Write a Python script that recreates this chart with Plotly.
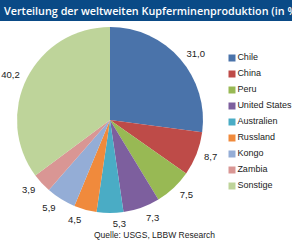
import plotly.graph_objects as go

categories = ["Chile", "China", "Peru", "United States", "Australien", "Russland", "Kongo", "Zambia", "Sonstige"]
values = [31.0, 8.7, 7.5, 7.3, 5.3, 4.5, 5.9, 3.9, 40.2]
colors = ["#4A73AA", "#BE4B48", "#98B954", "#7D5F9E", "#4AACC5", "#F08A3C", "#94ADD6", "#D99694", "#BED49A"]
title = "Verteilung der weltweiten Kupferminenproduktion (in %)"
source = "Quelle: USGS, LBBW Research"

W, H = 292, 241
cx, cy, r = 110, 120, 93
lab_r = r + 5  # labels sit a bit away from the pie edge


def dom(rad):
    return dict(x=[(cx - rad) / W, (cx + rad) / W], y=[(H - cy - rad) / H, (H - cy + rad) / H])


fig = go.Figure()

# two invisible, slightly larger pies that carry the outside value labels
# (alternate slices, so neighbouring labels are not pushed apart)
for parity in (0, 1):
    fig.add_trace(go.Pie(
        labels=categories,
        values=values,
        marker=dict(colors=["rgba(0,0,0,0)"] * len(values), line=dict(width=0)),
        sort=False, direction="clockwise", rotation=0,
        textposition=["outside" if i % 2 == parity else "none" for i in range(len(values))],
        texttemplate="%{value:.1f}",
        textfont=dict(size=9.5, color="#222222", family="Liberation Sans"),
        domain=dom(lab_r),
        hoverinfo="skip", showlegend=False,
    ))

# visible pie
fig.add_trace(go.Pie(
    labels=categories,
    values=values,
    marker=dict(colors=colors, line=dict(width=0)),
    sort=False, direction="clockwise", rotation=0,
    textinfo="none",
    domain=dom(r),
    hoverinfo="label+value", showlegend=False,
))

# custom legend (rows 16px apart)
idx = list(range(len(categories)))
fig.add_trace(go.Scatter(
    x=[0] * len(categories), y=idx,
    mode="markers+text",
    marker=dict(symbol="square", size=7, color=colors),
    text=categories, textposition="middle right",
    textfont=dict(size=9, color="#222222", family="Liberation Sans"),
    cliponaxis=False, hoverinfo="skip", showlegend=False,
    xaxis="x", yaxis="y",
))

top_row, bot_row = 58, 186
fig.update_layout(
    width=W, height=H,
    margin=dict(l=0, r=0, t=0, b=0, autoexpand=False),
    paper_bgcolor="white", plot_bgcolor="rgba(0,0,0,0)",
    separators=",.",
    font=dict(family="Liberation Sans", size=9, color="#222222"),
    showlegend=False,
    xaxis=dict(domain=[232 / W, 1], range=[0, 1], visible=False, fixedrange=True),
    yaxis=dict(domain=[(H - bot_row) / H, (H - top_row) / H], range=[len(categories) - 1, 0],
               visible=False, fixedrange=True),
    shapes=[dict(type="rect", xref="paper", yref="paper", x0=0, x1=1,
                 y0=(H - 21) / H, y1=1, fillcolor="#0A4A86", line=dict(width=0), layer="below")],
    annotations=[
        dict(text=title, xref="paper", yref="paper",
             x=2 / W, y=(H - 11) / H, xanchor="left", yanchor="middle", showarrow=False,
             font=dict(size=10.8, color="white", family="Open Sans", weight=600)),
        dict(text=source, xref="paper", yref="paper",
             x=154 / W, y=(H - 235) / H, xanchor="center", yanchor="middle", showarrow=False,
             font=dict(size=8.5, color="#222222")),
    ],
)

fig.write_html("out.html")
